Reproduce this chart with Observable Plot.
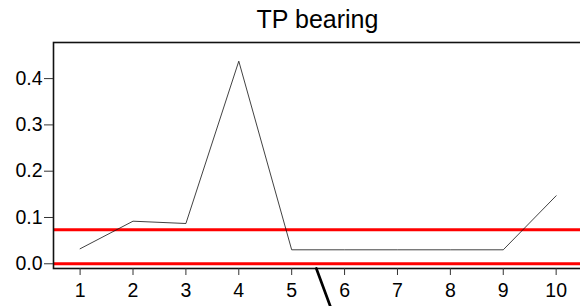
<!DOCTYPE html>
<html>
<head>
<meta charset="utf-8">
<script src="https://cdn.jsdelivr.net/npm/d3@7"></script>
<script src="https://cdn.jsdelivr.net/npm/@observablehq/plot@0.6"></script>
<style>
  html, body { margin: 0; padding: 0; background: #fff; }
</style>
</head>
<body>
<div id="chart"></div>
<script>
const title = "TP bearing";
const xs = [1, 2, 3, 4, 5, 6, 7, 8, 9, 10];
const values = [0.0324, 0.092, 0.087, 0.4376, 0.0302, 0.0302, 0.0302, 0.0302, 0.0302, 0.1469];
const redLevels = [0.0734, 0.0];
const xTicks = [1, 2, 3, 4, 5, 6, 7, 8, 9, 10];
const yTicks = [0, 0.1, 0.2, 0.3, 0.4];
const pointerX = [5.466, 5.76];
const pointerY = [-0.0102, -0.101];

const series = xs.map((x, i) => ({x, y: values[i]}));
const pointer = pointerX.map((x, i) => ({x, y: pointerY[i]}));

const chart = Plot.plot({
  width: 580,
  height: 306,
  marginLeft: 53,
  marginRight: -3,
  marginTop: 42,
  marginBottom: 38,
  style: {fontFamily: "'Liberation Sans', Arial, sans-serif", fontSize: "19.5px", color: "#000", background: "#fff", overflow: "hidden"},
  x: {domain: [0.497, 10.517]},
  y: {domain: [-0.0102, 0.478]},
  marks: [
    Plot.ruleY(redLevels, {stroke: "#ff0000", strokeWidth: 3}),
    Plot.line(series, {x: "x", y: "y", stroke: "#111", strokeWidth: 0.8}),
    Plot.frame({stroke: "#111", strokeWidth: 1.6}),
    Plot.axisX({ticks: xTicks, tickSize: 7, tickPadding: 8, stroke: "#333", label: null, tickFormat: d => String(d)}),
    Plot.axisY({ticks: yTicks, tickSize: 9, tickPadding: 2, stroke: "#333", label: null, tickFormat: d3.format(".1f")}),
    Plot.line(pointer, {x: "x", y: "y", stroke: "#000", strokeWidth: 2.7, clip: false}),
    Plot.text([title], {frameAnchor: "top", lineAnchor: "bottom", dy: -14.7, dx: -1, text: d => d, fontSize: 25, fill: "#000"})
  ]
});
document.getElementById("chart").appendChild(chart);
</script>
</body>
</html>
